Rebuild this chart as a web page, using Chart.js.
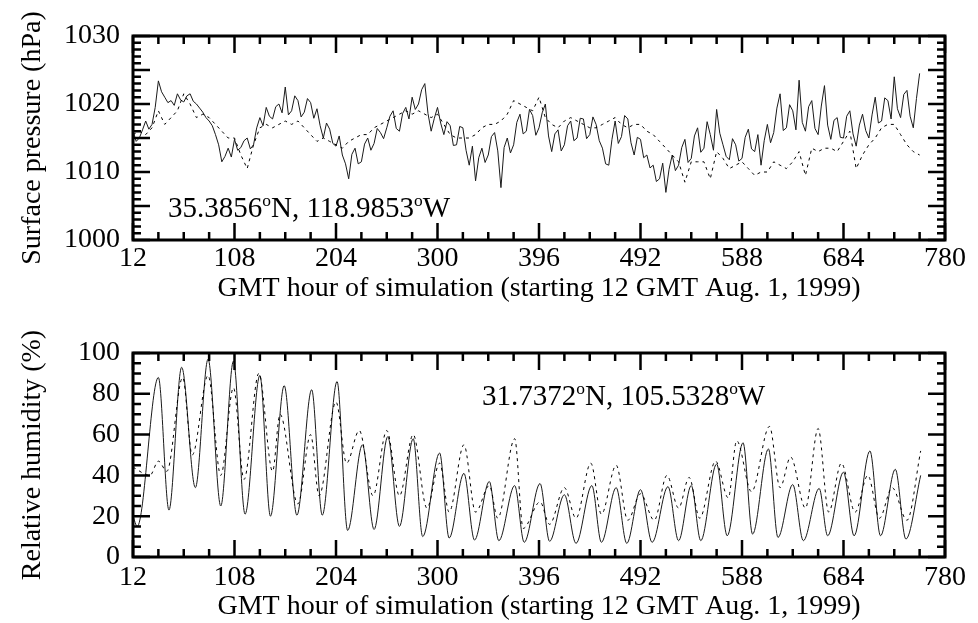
<!DOCTYPE html>
<html>
<head>
<meta charset="utf-8">
<script src="https://cdn.jsdelivr.net/npm/chart.js@4.4.1/dist/chart.umd.min.js"></script>
<style>
  body { margin: 0; background: #fff; }
  #wrap { position: relative; width: 978px; height: 623px; overflow: hidden; }
  canvas { position: absolute; left: 0; }
  .note { position: absolute; font-family: "Liberation Serif", serif; font-size: 29px; line-height: 30px; color: #000; white-space: nowrap; }
  .note sup { font-size: 0.6em; line-height: 0; vertical-align: baseline; position: relative; top: -0.62em; }
</style>
</head>
<body>
<div id="wrap">
  <canvas id="pressChart" width="978" height="310" style="top:0"></canvas>
  <canvas id="rhChart" width="978" height="313" style="top:310px"></canvas>
  <div class="note" style="left:168px;top:192px">35.3856<sup>o</sup>N, 118.9853<sup>o</sup>W</div>
  <div class="note" style="left:482px;top:380px">31.7372<sup>o</sup>N, 105.5328<sup>o</sup>W</div>
</div>
<script>
const hourTicks = [12, 108, 204, 300, 396, 492, 588, 684, 780];
const pressTicks = [1000, 1005, 1010, 1015, 1020, 1025, 1030];
const rhTicks = [0, 20, 40, 60, 80, 100];

// surface pressure, simulated (solid), every 3 h
const pressModelHours = [12,15,18,21,24,27,30,33,36,39,42,45,48,51,54,57,60,63,66,69,
  72,75,78,81,84,87,90,93,96,99,102,105,108,111,114,117,120,123,126,129,
  132,135,138,141,144,147,150,153,156,159,162,165,168,171,174,177,180,183,186,189,
  192,195,198,201,204,207,210,213,216,219,222,225,228,231,234,237,240,243,246,249,
  252,255,258,261,264,267,270,273,276,279,282,285,288,291,294,297,300,303,306,309,
  312,315,318,321,324,327,330,333,336,339,342,345,348,351,354,357,360,363,366,369,
  372,375,378,381,384,387,390,393,396,399,402,405,408,411,414,417,420,423,426,429,
  432,435,438,441,444,447,450,453,456,459,462,465,468,471,474,477,480,483,486,489,
  492,495,498,501,504,507,510,513,516,519,522,525,528,531,534,537,540,543,546,549,
  552,555,558,561,564,567,570,573,576,579,582,585,588,591,594,597,600,603,606,609,
  612,615,618,621,624,627,630,633,636,639,642,645,648,651,654,657,660,663,666,669,
  672,675,678,681,684,687,690,693,696,699,702,705,708,711,714,717,720,723,726,729,
  732,735,738,741,744,747,750,753,756];
const pressModel = [1016,1014.5,1015,1016.2,1017.5,1016.3,1017,1019.5,1023.4,1021.8,1021,1020.2,1020.5,1019.8,1021.5,1020.6,1020.3,1021.2,1021.5,1020.4,
  1020,1019.4,1018.8,1018,1017.5,1016.8,1015.5,1014,1011.5,1012.3,1013.5,1012.2,1014.8,1013.2,1013.6,1014.6,1015,1013.4,1014,1016.5,
  1018,1016.8,1019.5,1018.2,1017.8,1019.6,1020,1018.7,1022.5,1018.4,1019,1021.2,1020.5,1018.1,1018.8,1020.8,1020.2,1017.9,1019.3,1016.8,
  1015,1017.2,1016.3,1014.2,1013.8,1015.3,1012.5,1011.2,1009,1012.6,1013.5,1011.2,1011.5,1014.1,1015,1013.2,1014.2,1016.4,1015.8,1014.9,
  1016.5,1018.2,1019,1016.4,1016,1018.6,1019.5,1017.8,1021,1019.2,1020,1022.1,1023,1018.6,1016,1017.9,1019.5,1017.2,1015.5,1017.4,
  1016.8,1013.9,1014,1016.7,1016.5,1013.2,1011,1013.8,1008.7,1012.1,1013.5,1011.4,1012.5,1015.2,1015.8,1013.1,1007.7,1013.6,1015,1012.8,
  1014,1017.3,1018.5,1015.6,1016,1019.2,1018.3,1015.4,1016.5,1018.7,1020,1015.3,1013,1015.6,1016.2,1013.1,1014,1016.8,1017.5,1014.6,
  1015,1017.9,1017.8,1014.9,1015.5,1018.1,1017,1014.6,1013.5,1011.2,1011,1014.8,1017.5,1014.2,1015.2,1018.3,1017.8,1014.3,1012.5,1015.1,
  1014.8,1012.1,1012.5,1010.6,1011,1008.6,1009,1011.3,1007,1010.4,1012.5,1010.2,1011,1013.6,1014.8,1011.4,1012,1015.3,1016.5,1012.9,
  1013.5,1017.4,1015.5,1013.2,1019.2,1015.7,1014,1012.3,1011.8,1014.9,1014,1011.6,1012,1015.1,1016.3,1013.4,1013,1015.5,1011,1014.6,
  1017,1014.3,1015.8,1019.4,1021.5,1016.1,1016.5,1019.9,1019,1016.2,1023.5,1017.3,1016,1019.6,1020.5,1016.4,1015.5,1019.7,1022.7,1016.9,
  1014.8,1017.6,1018,1015.1,1015,1018.2,1019,1015.6,1013.8,1016.9,1018.5,1016.1,1015,1018.4,1021,1017.2,1017.5,1020.9,1020.5,1017.8,
  1024,1019.3,1018,1021.4,1022,1018.2,1016.5,1020.8,1024.5];

// surface pressure, observed (dotted), every 6 h
const pressObsHours = [12,18,24,30,36,42,48,54,60,66,72,78,84,90,96,102,108,114,120,126,
  132,138,144,150,156,162,168,174,180,186,192,198,204,210,216,222,228,234,240,246,
  252,258,264,270,276,282,288,294,300,306,312,318,324,330,336,342,348,354,360,366,
  372,378,384,390,396,402,408,414,420,426,432,438,444,450,456,462,468,474,480,486,
  492,498,504,510,516,522,528,534,540,546,552,558,564,570,576,582,588,594,600,606,
  612,618,624,630,636,642,648,654,660,666,672,678,684,690,696,702,708,714,720,726,
  732,738,744,750,756];
const pressObs = [1015.5,1016,1015.5,1016.5,1019,1017,1018,1019,1021.5,1020,
  1018,1018.5,1018,1017,1016,1015,1015,1012.5,1010.5,1014,
  1016.5,1017,1016.5,1017,1017.5,1017,1017.5,1016.5,1015.5,1014.5,
  1015,1014.5,1014,1013.5,1014.5,1015,1015.5,1015.5,1016.5,1017,
  1017.5,1018,1018.5,1019,1018.5,1019,1018.5,1018,1018.5,1017,
  1015.5,1015,1015,1015,1015.5,1016.5,1017,1017,1017.5,1018.5,
  1020.5,1020,1019.5,1019,1021,1018,1017,1016.5,1017.5,1018,
  1017.5,1017,1016.5,1016.5,1017,1017.5,1018,1017,1016.5,1017,
  1017,1016,1015.5,1014.5,1013.5,1012.5,1011.5,1008.5,1011.5,1011.5,
  1011.5,1009,1013,1012,1010.5,1011,1011.5,1010.5,1009.5,1010,
  1010,1011.5,1011,1010.5,1011.5,1013,1009.5,1013.5,1013,1013.5,
  1013.5,1013,1014.5,1016,1010.5,1012.5,1014,1015,1016.5,1017,
  1017,1015.5,1014,1013,1012.5];

// relative humidity, daily peaks and troughs
const rhModelHours = [12,16,36,46,58,71,83,95,107,118,132,142,155,167,181,191,205,215,229,240,
  253,264,277,286,302,311,325,335,349,358,373,382,397,406,420,431,446,455,469,479,
  492,503,518,528,540,549,564,574,589,598,613,622,636,646,661,669,684,694,709,719,
  733,743,757];
const rhModel = [20,15,88,23,93,34,97,25,96,21,89,20,84,20.5,82,20.5,86,13,55,13.5,
  59,15,58,10,51,9.3,41,8.3,37,8,35,7.2,36,7.7,30.5,6.7,35,7.2,34,6.7,
  33,7.2,34.5,8,35,8,45.6,10.4,56,11.2,53,9.6,35.5,8,33.6,10.4,41.6,10.4,52,10.4,
  43,8.8,40];
const rhObsHours = [12,28,36,44,59,68,83,95,107,117,131,144,151,168,180,188,204,214,226,239,
  252,264,277,290,302,311,325,336,349,357,373,381,397,406,420,431,445,455,469,480,
  492,505,517,528,538,548,563,575,583,597,614,624,634,648,660,670,682,695,707,718,
  730,744,757];
const rhObs = [44,40,47,42,88,50,89,40,83,38,90,42,70,26,60,30,76,46,62,30,
  62,30,60,24,46,22,55,22,35,19,58,14,27,16,34,19,46,21,45,18,
  31,18,40,24,39,19,47,29,57,32,64,34,49,24,63,22,46,22,40,19,
  34,18,52];

const serif = { family: "Liberation Serif", size: 28 };
const xTitle = "GMT hour of simulation (starting 12 GMT Aug. 1, 1999)";

const frameTicks = {
  id: "frameTicks",
  afterDraw(chart, args, opts) {
    const { ctx, chartArea: a } = chart;
    const x = chart.scales.x, y = chart.scales.y;
    ctx.save();
    ctx.strokeStyle = "#000";
    ctx.lineWidth = 2.5;
    ctx.beginPath();
    for (let h = 12; h <= 780; h += 24) {
      const px = x.getPixelForValue(h);
      const len = (h - 12) % 96 === 0 ? 17 : 8;
      ctx.moveTo(px, a.bottom); ctx.lineTo(px, a.bottom - len);
      ctx.moveTo(px, a.top); ctx.lineTo(px, a.top + len);
    }
    for (let v = opts.min; v <= opts.max; v += opts.minor) {
      const py = y.getPixelForValue(v);
      const len = (v - opts.min) % opts.major === 0 ? 17 : 8;
      ctx.moveTo(a.left, py); ctx.lineTo(a.left + len, py);
      ctx.moveTo(a.right, py); ctx.lineTo(a.right - len, py);
    }
    ctx.stroke();
    ctx.lineWidth = 3;
    ctx.strokeRect(a.left, a.top, a.right - a.left, a.bottom - a.top);
    ctx.restore();
  }
};

function points(xs, ys) {
  return xs.map((h, i) => ({ x: h, y: ys[i] }));
}

function makeChart(id, cfg) {
  const ctx = document.getElementById(id).getContext("2d");
  return new Chart(ctx, {
    type: "line",
    data: {
      datasets: [
        {
          data: points(cfg.obsX, cfg.obsY),
          borderColor: "#000",
          borderWidth: 1,
          borderDash: [3, 4],
          pointRadius: 0,
          cubicInterpolationMode: cfg.smooth ? "monotone" : "default",
          tension: 0,
        },
        {
          data: points(cfg.modX, cfg.modY),
          borderColor: "#1a1a1a",
          borderWidth: 1,
          pointRadius: 0,
          cubicInterpolationMode: cfg.smooth ? "monotone" : "default",
          tension: 0,
        },
      ],
    },
    options: {
      responsive: false,
      animation: false,
      devicePixelRatio: 1,
      layout: { padding: { top: cfg.padTop, right: 33, left: 0, bottom: 0 } },
      plugins: {
        legend: { display: false },
        tooltip: { enabled: false },
        frameTicks: cfg.frame,
      },
      scales: {
        x: {
          type: "linear",
          min: 12,
          max: 780,
          afterBuildTicks: (s) => { s.ticks = hourTicks.map((v) => ({ value: v })); },
          afterFit: (s) => { s.height = cfg.xHeight; },
          grid: { display: false, drawTicks: false },
          border: { display: false },
          ticks: { color: "#000", font: serif, padding: cfg.tickPad, maxRotation: 0, autoSkip: false, callback: (v) => String(v) },
          title: { display: true, text: xTitle, color: "#000", font: serif, padding: { top: 0, bottom: cfg.titlePad } },
        },
        y: {
          min: cfg.frame.min,
          max: cfg.frame.max,
          afterBuildTicks: (s) => { s.ticks = cfg.yTicks.map((v) => ({ value: v })); },
          afterFit: (s) => { s.width = 133; },
          grid: { display: false, drawTicks: false },
          border: { display: false },
          ticks: { color: "#000", font: serif, padding: 13, callback: (v) => String(v) },
          title: { display: true, text: cfg.yTitle, color: "#000", font: serif, padding: { top: 16, bottom: 0 } },
        },
      },
    },
    plugins: [frameTicks],
  });
}

makeChart("pressChart", {
  obsX: pressObsHours, obsY: pressObs,
  modX: pressModelHours, modY: pressModel,
  smooth: false,
  padTop: 36, xHeight: 70, titlePad: 5, tickPad: 2,
  yTicks: pressTicks,
  yTitle: "Surface pressure (hPa)",
  frame: { min: 1000, max: 1030, minor: 1, major: 5 },
});

makeChart("rhChart", {
  obsX: rhObsHours, obsY: rhObs,
  modX: rhModelHours, modY: rhModel,
  smooth: true,
  padTop: 43, xHeight: 66, titlePad: 0, tickPad: 4,
  yTicks: rhTicks,
  yTitle: "Relative humidity (%)",
  frame: { min: 0, max: 100, minor: 5, major: 20 },
});
</script>
</body>
</html>
